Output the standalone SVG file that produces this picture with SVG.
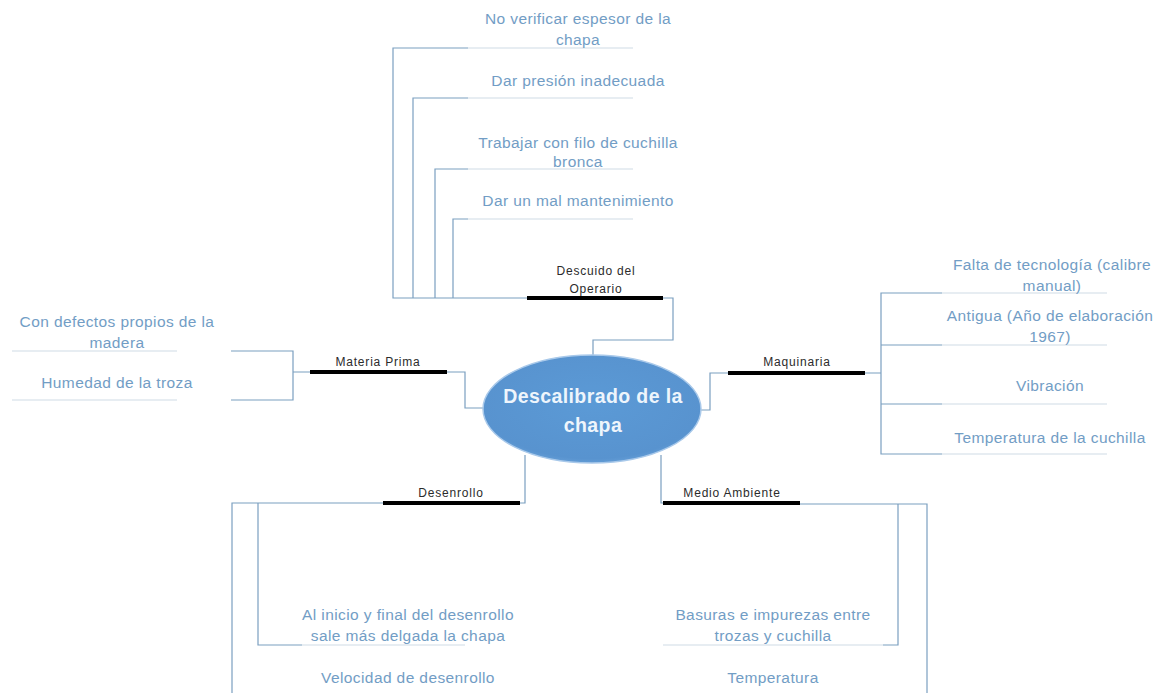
<svg xmlns="http://www.w3.org/2000/svg" width="1161" height="693" viewBox="0 0 1161 693">
  <defs>
    <style>
      .wire { fill: none; stroke: #7b9fc0; stroke-width: 1.2; }
      .under { fill: none; stroke: #cfdbe6; stroke-width: 1.2; }
      .bar { stroke: #000; stroke-width: 4; }
      .cause { font-family: "Liberation Sans", Arial, sans-serif; font-size: 15.5px; letter-spacing: 0.4px; fill: #729dc5; text-anchor: middle; }
      .cat { font-family: "Liberation Sans", Arial, sans-serif; font-size: 12px; letter-spacing: 0.8px; fill: #2b2b2b; text-anchor: middle; }
      .title { font-family: "Liberation Sans", Arial, sans-serif; font-size: 19.5px; font-weight: bold; letter-spacing: 0.4px; fill: #eef5fc; text-anchor: middle; }
    </style>
    <radialGradient id="headFill" cx="50%" cy="45%" r="60%">
      <stop offset="0" stop-color="#5b9ad6"/>
      <stop offset="0.85" stop-color="#5893cf"/>
      <stop offset="1" stop-color="#6fa6dc"/>
    </radialGradient>
  </defs>
  <rect width="1161" height="693" fill="#fff"/>

  <!-- connectors -->
  <g id="connectors">
    <!-- Descuido del Operario -->
    <path class="wire" d="M663 298 H673 V340 H593 V356"/>
    <path class="wire" d="M527 298 H393 V48 H468"/>
    <path class="wire" d="M413 298 V98 H468"/>
    <path class="wire" d="M435 298 V169 H468"/>
    <path class="wire" d="M453 298 V219 H468"/>
    <path class="under" d="M468 48 H633 M468 98 H633 M468 169 H633 M468 219 H633"/>

    <!-- Materia Prima -->
    <path class="wire" d="M447 372 H465 V408 H484"/>
    <path class="wire" d="M310 372 H293 M231 351 H293 V400 H231"/>
    <path class="under" d="M12 351 H177 M12 400 H177"/>

    <!-- Maquinaria -->
    <path class="wire" d="M701 410 H710 V373 H728"/>
    <path class="wire" d="M865 373 H881 M942 293 H881 V454 H942 M881 345 H942 M881 404 H942"/>
    <path class="under" d="M942 293 H1107 M942 345 H1107 M942 404 H1107 M942 454 H1107"/>

    <!-- Desenrollo -->
    <path class="wire" d="M525 455 V503 H520"/>
    <path class="wire" d="M383 503 H232 V693 M258 503 V645 H302"/>
    <path class="under" d="M302 645 H465"/>

    <!-- Medio Ambiente -->
    <path class="wire" d="M661 455 V503 H663"/>
    <path class="wire" d="M800 504 H927 V693 M898 504 V645 H883"/>
    <path class="under" d="M883 645 H663"/>
  </g>

  <!-- central effect -->
  <g id="effect">
    <ellipse cx="592" cy="409" rx="109" ry="54" fill="url(#headFill)" stroke="#a9c9ea" stroke-width="1.5"/>
    <text class="title" x="593" y="403">Descalibrado de la</text>
    <text class="title" x="593" y="432">chapa</text>
  </g>

  <!-- cause categories -->
  <g id="cat-operario">
    <line class="bar" x1="527" y1="298" x2="663" y2="298"/>
    <text class="cat" x="596" y="275">Descuido del</text>
    <text class="cat" x="596" y="293">Operario</text>
  </g>
  <g id="cat-materia">
    <line class="bar" x1="310" y1="372" x2="447" y2="372"/>
    <text class="cat" x="378" y="366">Materia Prima</text>
  </g>
  <g id="cat-maquinaria">
    <line class="bar" x1="728" y1="373" x2="865" y2="373"/>
    <text class="cat" x="797" y="366">Maquinaria</text>
  </g>
  <g id="cat-desenrollo">
    <line class="bar" x1="383" y1="503" x2="520" y2="503"/>
    <text class="cat" x="451" y="497">Desenrollo</text>
  </g>
  <g id="cat-ambiente">
    <line class="bar" x1="663" y1="503" x2="800" y2="503"/>
    <text class="cat" x="732" y="497">Medio Ambiente</text>
  </g>

  <!-- individual causes -->
  <g id="c-espesor">
    <text class="cause" x="578" y="24">No verificar espesor de la</text>
    <text class="cause" x="578" y="45">chapa</text>
  </g>
  <g id="c-presion">
    <text class="cause" x="578" y="86">Dar presión inadecuada</text>
  </g>
  <g id="c-filo">
    <text class="cause" x="578" y="148">Trabajar con filo de cuchilla</text>
    <text class="cause" x="578" y="167">bronca</text>
  </g>
  <g id="c-mantenimiento">
    <text class="cause" x="578" y="206">Dar un mal mantenimiento</text>
  </g>
  <g id="c-defectos">
    <text class="cause" x="117" y="327">Con defectos propios de la</text>
    <text class="cause" x="117" y="348">madera</text>
  </g>
  <g id="c-humedad">
    <text class="cause" x="117" y="388">Humedad de la troza</text>
  </g>
  <g id="c-tecnologia">
    <text class="cause" x="1052" y="270">Falta de tecnología (calibre</text>
    <text class="cause" x="1052" y="291">manual)</text>
  </g>
  <g id="c-antigua">
    <text class="cause" x="1050" y="321">Antigua (Año de elaboración</text>
    <text class="cause" x="1050" y="342">1967)</text>
  </g>
  <g id="c-vibracion">
    <text class="cause" x="1050" y="391">Vibración</text>
  </g>
  <g id="c-temp-cuchilla">
    <text class="cause" x="1050" y="443">Temperatura de la cuchilla</text>
  </g>
  <g id="c-inicio-final">
    <text class="cause" x="408" y="620">Al inicio y final del desenrollo</text>
    <text class="cause" x="408" y="641">sale más delgada la chapa</text>
  </g>
  <g id="c-velocidad">
    <text class="cause" x="408" y="683">Velocidad de desenrollo</text>
  </g>
  <g id="c-basuras">
    <text class="cause" x="773" y="620">Basuras e impurezas entre</text>
    <text class="cause" x="773" y="641">trozas y cuchilla</text>
  </g>
  <g id="c-temperatura">
    <text class="cause" x="773" y="683">Temperatura</text>
  </g>
</svg>
